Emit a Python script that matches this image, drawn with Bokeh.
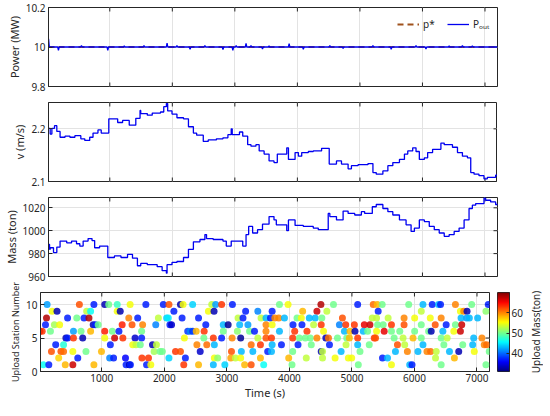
import numpy as np
from bokeh.plotting import figure
from bokeh.models import (FixedTicker, Range1d, Legend, LegendItem,
                          LinearColorMapper, ColumnDataSource)
from bokeh.layouts import column, row
from bokeh.embed import file_html
from bokeh.resources import INLINE

# ---------------- data ----------------
x_ticks = [1000, 2000, 3000, 4000, 5000, 6000, 7000]
x_lo, x_hi = 20, 7200

# power reference and output (MW)
p_ref_t = [20, 7200]
p_ref = [10.0, 10.0]
spike_t = [21, 179, 547, 968, 1232, 1547, 1916, 2074, 2284, 2521, 2810, 2968, 3021, 3179,
           3258, 3442, 3547, 3868, 4095, 4519, 4731, 5208, 5500, 5897, 6056, 6427, 6639, 6798]
spike_dp = [0.042, -0.017, 0.007, -0.017, 0.005, 0.008, 0.020, 0.007, -0.012, 0.008, -0.013,
            -0.017, 0.007, 0.018, 0.008, -0.010, 0.005, 0.017, -0.012, 0.008, -0.008, 0.008,
            -0.012, 0.008, -0.010, 0.005, 0.008, 0.006]

# wind speed v (m/s)
vel_t = [20, 47, 74, 116, 153, 205, 284, 363, 442, 537, 600, 679, 732, 811, 863, 984, 1126,
         1205, 1311, 1416, 1484, 1495, 1600, 1679, 1811, 1863, 1905, 1926, 1995, 2074, 2179,
         2258, 2337, 2389, 2495, 2574, 2705, 2810, 2889, 2942, 2958, 3074, 3126, 3205, 3258,
         3337, 3389, 3468, 3547, 3626, 3679, 3830, 3857, 3963, 4016, 4069, 4175, 4254, 4387,
         4509, 4625, 4705, 4811, 4864, 4970, 5049, 5129, 5208, 5261, 5367, 5447, 5526, 5632,
         5712, 5765, 5844, 5897, 5950, 6030, 6083, 6162, 6295, 6348, 6480, 6560, 6639, 6719,
         6772, 6825, 6904, 6984, 7037, 7170, 7200]
vel = [2.201, 2.190, 2.201, 2.206, 2.195, 2.184, 2.186, 2.184, 2.187, 2.181, 2.178, 2.184,
       2.192, 2.198, 2.192, 2.219, 2.212, 2.216, 2.207, 2.220, 2.235, 2.229, 2.226, 2.230,
       2.232, 2.242, 2.248, 2.234, 2.228, 2.221, 2.219, 2.204, 2.192, 2.188, 2.176, 2.179,
       2.181, 2.183, 2.189, 2.200, 2.189, 2.194, 2.186, 2.170, 2.167, 2.170, 2.158, 2.152,
       2.139, 2.136, 2.152, 2.164, 2.142, 2.155, 2.148, 2.155, 2.157, 2.158, 2.163, 2.133,
       2.139, 2.133, 2.124, 2.130, 2.132, 2.132, 2.134, 2.117, 2.114, 2.120, 2.130, 2.136,
       2.142, 2.152, 2.158, 2.164, 2.157, 2.142, 2.145, 2.155, 2.161, 2.173, 2.170, 2.165,
       2.155, 2.148, 2.145, 2.117, 2.114, 2.111, 2.105, 2.108, 2.112, 2.113]

# vessel mass (ton)
mass_t = [20, 37, 47, 100, 153, 205, 311, 389, 468, 521, 574, 653, 716, 758, 837, 968, 1074,
          1179, 1284, 1363, 1442, 1495, 1600, 1758, 1837, 1905, 1916, 1995, 2074, 2179, 2258,
          2337, 2442, 2521, 2547, 2653, 2810, 2863, 2942, 3126, 3179, 3221, 3284, 3363, 3442,
          3547, 3626, 3663, 3830, 3857, 3963, 4095, 4254, 4334, 4493, 4519, 4625, 4731, 4811,
          4917, 5023, 5076, 5198, 5261, 5367, 5447, 5526, 5632, 5738, 5818, 5871, 5950, 6030,
          6109, 6189, 6268, 6348, 6427, 6507, 6586, 6666, 6745, 6798, 6851, 6984, 7010, 7090,
          7170, 7200]
mass = [988.0, 983.7, 985.1, 980.9, 985.7, 990.9, 989.4, 990.9, 988.6, 986.6, 990.9, 993.1,
        991.4, 985.1, 986.6, 976.6, 978.0, 976.6, 979.4, 976.0, 969.4, 971.4, 970.3, 968.6,
        965.1, 962.9, 970.3, 972.3, 973.1, 976.6, 983.7, 990.3, 992.3, 996.6, 993.1, 992.3,
        990.9, 986.6, 990.9, 986.6, 996.6, 1003.7, 998.0, 1000.9, 1005.7, 1012.3, 1009.4,
        1005.1, 1000.0, 1009.4, 1004.6, 1003.7, 1002.3, 1000.9, 1015.1, 1012.3, 1009.4,
        1017.1, 1015.1, 1013.7, 1016.6, 1015.1, 1020.9, 1022.9, 1019.4, 1016.6, 1013.7,
        1009.4, 1005.1, 999.4, 1002.3, 1009.4, 1008.0, 1003.7, 1000.9, 998.0, 995.1, 996.6,
        999.4, 1002.3, 1009.4, 1019.4, 1022.3, 1023.7, 1028.6, 1026.6, 1025.1, 1022.9, 1022.3]

# upload events per station: time (s) and uploaded mass (ton)
t_s10 = [126, 642, 874, 1047, 1111, 1247, 1453, 1705, 1984, 2074, 2258, 2300, 2453, 2758, 2821,
         2916, 3089, 3841, 3979, 4504, 4705, 5092, 5341, 5405, 5484, 5908, 6136, 6284, 6385,
         6417, 6655, 6915, 7180]
m_s10 = [42, 62, 37, 33, 50, 48, 55, 37, 37, 62, 33, 55, 44, 53, 42, 63, 37, 50, 55, 68, 50, 37,
         61, 58, 50, 50, 43, 37, 43, 37, 60, 50, 37]
t_s9 = [205, 284, 758, 821, 1247, 1295, 2153, 2705, 2795, 3300, 3495, 3724, 4212, 4440, 4599,
        5420, 6109, 6735, 6788, 6841, 7143]
m_s9 = [55, 33, 53, 46, 55, 33, 37, 55, 33, 37, 41, 37, 58, 67, 53, 37, 53, 55, 60, 33, 51]
t_s8 = [116, 453, 600, 716, 795, 1432, 1574, 1905, 2037, 2063, 2284, 2547, 3179, 3258, 3547,
        3626, 3698, 3767, 3830, 3921, 4122, 4191, 4318, 4413, 4519, 4848, 5325, 5394, 5579,
        5834, 6003, 6253, 6427, 6745, 6836, 6878, 7010]
m_s8 = [68, 37, 50, 37, 68, 60, 37, 53, 44, 45, 37, 37, 53, 37, 53, 43, 37, 60, 60, 43, 50, 55,
        43, 43, 50, 62, 53, 53, 53, 60, 55, 55, 60, 43, 42, 43, 43]
t_s7 = [100, 242, 326, 863, 900, 942, 1326, 1484, 1653, 1863, 2089, 2116, 2663, 2942, 3021,
        3205, 3337, 3626, 3724, 4058, 4201, 4387, 4509, 4800, 4901, 5039, 5198, 5288, 5410,
        5500, 5632, 5834, 6109, 6332, 6507, 6655, 6756]
m_s7 = [37, 52, 55, 33, 37, 50, 64, 62, 60, 41, 37, 34, 37, 43, 32, 43, 42, 60, 55, 37, 37, 53,
        63, 41, 63, 63, 66, 67, 50, 50, 63, 62, 50, 62, 37, 50, 67]
t_s6 = [11, 47, 179, 547, 668, 821, 1047, 1168, 1274, 1637, 2374, 2416, 2453, 2510, 2637, 2942,
        3168, 3363, 3442, 3626, 3841, 4085, 4281, 4546, 4880, 4970, 5049, 5182, 5251, 5394,
        5516, 5632, 5765, 6003, 6226, 6268, 6454, 6629, 6735]
m_s6 = [68, 63, 50, 42, 50, 58, 64, 50, 37, 50, 38, 41, 38, 58, 63, 50, 51, 50, 37, 60, 43, 63,
        63, 55, 43, 58, 33, 43, 50, 55, 66, 50, 50, 50, 50, 33, 43, 55, 67]
t_s5 = [426, 453, 547, 695, 1047, 1205, 1337, 1532, 1637, 2321, 2632, 2784, 2916, 3084, 3221,
        3495, 3626, 3714, 4053, 4159, 4254, 4334, 4440, 4583, 4625, 4769, 4917, 4959, 5092,
        5357, 5378, 5675, 5818, 5977, 6109, 6427, 6523, 6947, 7079]
m_s5 = [33, 37, 63, 33, 55, 67, 63, 34, 37, 55, 50, 63, 37, 60, 32, 53, 62, 63, 63, 50, 50, 50,
        60, 33, 61, 50, 50, 58, 63, 63, 62, 50, 53, 58, 50, 50, 53, 43, 60]
t_s4 = [263, 389, 1137, 1495, 1547, 1616, 1811, 1874, 2521, 2679, 2800, 3389, 3537, 3724, 3873,
        4138, 4350, 4641, 4906, 5092, 5277, 5728, 5844, 6136, 6470, 6772, 6931, 7116, 7154]
m_s4 = [37, 47, 37, 55, 53, 50, 33, 53, 60, 61, 43, 61, 63, 43, 37, 37, 50, 37, 53, 43, 50, 62,
        53, 43, 50, 50, 43, 60, 61]
t_s3 = [195, 347, 389, 537, 747, 995, 1837, 1932, 1968, 2179, 2258, 2574, 3074, 3232, 3416,
        3653, 3714, 4053, 4509, 4530, 4827, 5129, 5696, 5887, 6056, 6200, 6258, 6348, 6560,
        6708, 6957, 7196]
m_s3 = [62, 62, 61, 55, 50, 58, 52, 50, 50, 63, 62, 34, 62, 43, 43, 37, 43, 50, 33, 53, 43, 50,
        43, 60, 43, 60, 61, 53, 43, 33, 55, 50]
t_s2 = [311, 616, 1126, 1189, 1379, 1642, 1747, 2074, 2337, 2800, 2853, 3063, 3137, 3221, 3537,
        3989, 4270, 4530, 4731, 4943, 4996, 5489, 5569, 6337, 6639]
m_s2 = [57, 37, 41, 37, 36, 63, 63, 44, 37, 55, 51, 59, 53, 55, 58, 58, 53, 53, 55, 55, 55, 37,
        43, 53, 58]
t_s1 = [63, 153, 416, 537, 874, 1389, 1442, 1458, 1716, 1784, 2311, 2547, 2784, 2968, 3284,
        3389, 3589, 4042, 5102, 5632, 5924, 5961, 6427, 7143]
m_s1 = [46, 37, 58, 67, 58, 37, 33, 37, 37, 55, 63, 58, 43, 44, 58, 62, 46, 50, 50, 55, 43, 37,
        50, 50]

mass_lo, mass_hi = 31, 70
cbar_ticks = [40, 50, 60]

# ---------------- style ----------------
FONT = "Noto Sans"
INK = "#262626"
GRID = "#e3e3e3"
BLUE = "#0000f0"
FW, FH = 449, 79
LB = 40
TICK = 4


def jet(n):
    out = []
    for x in np.linspace(0, 1, n):
        r = min(max(1.5 - abs(4 * x - 3), 0), 1)
        g = min(max(1.5 - abs(4 * x - 2), 0), 1)
        b = min(max(1.5 - abs(4 * x - 1), 0), 1)
        out.append("#%02x%02x%02x" % (int(r * 255), int(g * 255), int(b * 255)))
    return out


PAL = jet(256)


def style_axis(ax):
    ax.axis_line_color = INK
    ax.major_tick_line_color = INK
    ax.major_tick_in = TICK
    ax.major_tick_out = 0
    ax.minor_tick_in = 0
    ax.minor_tick_out = 0
    ax.major_label_text_font = FONT
    ax.major_label_text_font_size = "10px"
    ax.major_label_text_color = INK
    ax.major_label_standoff = 3
    ax.axis_label_text_font = FONT
    ax.axis_label_text_font_style = "normal"
    ax.axis_label_text_font_size = "11px"
    ax.axis_label_text_color = INK
    ax.axis_label_standoff = 1


def make_fig(y_lo, y_hi, yticks, ylabel, top, bottom, xlabels=False):
    p = figure(frame_width=FW, frame_height=FH, x_range=Range1d(x_lo, x_hi),
               y_range=Range1d(y_lo, y_hi), output_backend="svg", toolbar_location=None,
               min_border_left=LB, min_border_right=8, min_border_top=top,
               min_border_bottom=bottom)
    p.outline_line_color = INK
    p.xaxis.ticker = FixedTicker(ticks=x_ticks)
    p.yaxis.ticker = FixedTicker(ticks=yticks)
    for ax in p.xaxis + p.yaxis:
        style_axis(ax)
    p.yaxis.axis_label = ylabel
    if not xlabels:
        p.xaxis.visible = False
    p.xgrid.ticker = FixedTicker(ticks=x_ticks)
    p.ygrid.ticker = FixedTicker(ticks=yticks)
    p.xgrid.grid_line_color = GRID
    p.ygrid.grid_line_color = GRID
    # inward box ticks on the unlabeled sides (top, right and, if needed, bottom)
    dy = (y_hi - y_lo) * TICK / FH
    dx = (x_hi - x_lo) * TICK / FW
    xt = list(x_ticks)
    p.segment(x0=xt, y0=[y_hi] * len(xt), x1=xt, y1=[y_hi - dy] * len(xt),
              line_color=INK, line_width=1)
    if not xlabels:
        p.segment(x0=xt, y0=[y_lo] * len(xt), x1=xt, y1=[y_lo + dy] * len(xt),
                  line_color=INK, line_width=1)
    yt = list(yticks)
    p.segment(x0=[x_hi] * len(yt), y0=yt, x1=[x_hi - dx] * len(yt), y1=yt,
              line_color=INK, line_width=1)
    return p


# panel 1: power
p1 = make_fig(9.8, 10.2, [9.8, 10.0, 10.2], "Power (MW)", top=7, bottom=8)
p1.yaxis[0].major_label_overrides = {9.8: "9.8", 10.0: "10", 10.2: "10.2"}
r_ref = p1.line(p_ref_t, p_ref, line_color="#a0521c", line_width=2, line_dash="6 4")
out_t, out_p = [], []
for t, d in zip(spike_t, spike_dp):
    out_t += [t - 12, t, t + 12]
    out_p += [10.0, 10.0 + d, 10.0]
out_t.append(x_hi)
out_p.append(10.0)
r_out = p1.line(out_t, out_p, line_color=BLUE, line_width=1.3)
leg = Legend(items=[LegendItem(label="p*", renderers=[r_ref]),
                    LegendItem(label="Pₒᵤₜ", renderers=[r_out])],
             orientation="horizontal", location=(349, 55), margin=0, padding=0,
             spacing=4, glyph_width=22, glyph_height=10, label_standoff=4,
             label_text_font=FONT, label_text_font_size="10px", label_text_color=INK,
             background_fill_alpha=0, border_line_alpha=0)
p1.add_layout(leg, "center")

# panel 2: velocity
p2 = make_fig(2.1, 2.25, [2.1, 2.2], "v (m/s)", top=8, bottom=8)
p2.step(vel_t, vel, mode="after", line_color=BLUE, line_width=1.3)

# panel 3: mass
p3 = make_fig(960, 1029, [960, 980, 1000, 1020], "Mass (ton)", top=8, bottom=6)
p3.step(mass_t, mass, mode="after", line_color=BLUE, line_width=1.3)

# panel 4: upload events
p4 = make_fig(0, 11.8, [0, 5, 10], "Upload Station Number", top=10, bottom=0,
              xlabels=True)
p4.left[0].axis_label_text_font_size = "9px"
p4.below[0].axis_label = "Time (s)"
p4.below[0].axis_label_standoff = 0
p4.below[0].major_label_standoff = 2
mapper = LinearColorMapper(palette=PAL, low=mass_lo, high=mass_hi)
up_t, up_s, up_m = [], [], []
for st, tt, mm in [(10, t_s10, m_s10), (9, t_s9, m_s9), (8, t_s8, m_s8), (7, t_s7, m_s7),
                   (6, t_s6, m_s6), (5, t_s5, m_s5), (4, t_s4, m_s4), (3, t_s3, m_s3),
                   (2, t_s2, m_s2), (1, t_s1, m_s1)]:
    up_t += tt
    up_s += [st] * len(tt)
    up_m += mm
src = ColumnDataSource(dict(t=up_t, s=up_s, m=up_m))
p4.scatter("t", "s", source=src, size=7, line_color=None, fill_alpha=0.85,
           fill_color={"field": "m", "transform": mapper})

# colour bar as a slim figure next to panel 4
cb = figure(frame_width=12, frame_height=FH, x_range=Range1d(0, 1),
            y_range=Range1d(mass_lo, mass_hi), output_backend="svg", toolbar_location=None,
            min_border_left=0, min_border_right=0, min_border_top=10, min_border_bottom=26,
            x_axis_location=None, y_axis_location="right")
grad = np.linspace(mass_lo, mass_hi, 256).reshape(256, 1)
cb.image(image=[grad], x=0, y=mass_lo, dw=1, dh=mass_hi - mass_lo, color_mapper=mapper)
cb.grid.visible = False
cb.outline_line_color = INK
cb.yaxis.ticker = FixedTicker(ticks=cbar_ticks)
style_axis(cb.yaxis[0])
cb.yaxis[0].major_tick_in = 3
cb.yaxis[0].major_label_standoff = 2

# colour-bar title: the left-axis label of a 1-px wide figure, so it reads bottom to top
lab = figure(frame_width=1, frame_height=FH, x_range=Range1d(0, 1), y_range=Range1d(0, 1),
             output_backend="svg", toolbar_location=None, min_border_left=0,
             min_border_right=0, min_border_top=10, min_border_bottom=26,
             x_axis_location=None, y_axis_location="left")
lab.outline_line_color = None
lab.grid.visible = False
lab.yaxis.ticker = FixedTicker(ticks=[])
style_axis(lab.yaxis[0])
lab.yaxis[0].axis_line_color = None
lab.yaxis[0].axis_label = "Upload Mass(ton)"
lab.yaxis[0].axis_label_text_font_size = "10px"
lab.yaxis[0].axis_label_standoff = 0

layout = column(p1, p2, p3, row(p4, cb, lab))
open("out.html", "w").write(file_html(layout, INLINE))
